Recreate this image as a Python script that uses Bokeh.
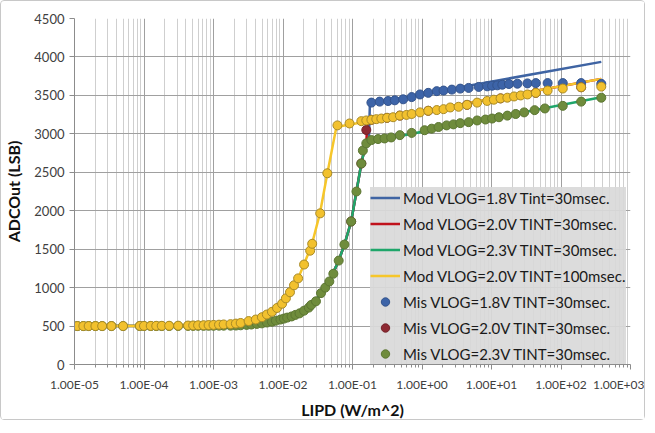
from bokeh.plotting import figure
from bokeh.models import Range1d, FixedTicker, CustomJSTickFormatter
from bokeh.embed import file_html
from bokeh.resources import INLINE

# ---------------- data ----------------
x_ticks = [1e-5, 1e-4, 1e-3, 1e-2, 1e-1, 1e0, 1e1, 1e2, 1e3]
y_ticks = [0, 500, 1000, 1500, 2000, 2500, 3000, 3500, 4000, 4500]

# Model curves
mod18_x = [1e-5, 1e-3, 3.2e-3, 5.9e-3, 0.0103, 0.016, 0.02, 0.0252, 0.0298, 0.0352, 0.0464, 0.0633,
           0.0765, 0.0957, 0.114, 0.134, 0.149, 0.165, 0.172, 0.178, 380]
mod18_y = [500, 505, 512, 540, 595, 650, 700, 770, 830, 928, 1080, 1351,
           1560, 1860, 2250, 2614, 2800, 2890, 2905, 3395, 3936]

mod20_x = [1e-5, 1e-3, 3.2e-3, 5.9e-3, 0.0103, 0.016, 0.02, 0.0252, 0.0298, 0.0352, 0.0464, 0.0633,
           0.0765, 0.0957, 0.114, 0.134, 0.149, 0.158, 0.163, 380]
mod20_y = [500, 505, 512, 540, 595, 650, 700, 770, 830, 928, 1080, 1351,
           1560, 1860, 2250, 2614, 2800, 2860, 3160, 3715]

mod23_x = [1e-5, 1e-3, 3.2e-3, 5.9e-3, 0.0103, 0.016, 0.02, 0.0252, 0.0298, 0.0352, 0.0464, 0.0633,
           0.0765, 0.0957, 0.114, 0.134, 0.149, 0.165, 380]
mod23_y = [500, 505, 512, 540, 595, 650, 700, 770, 830, 928, 1080, 1351,
           1560, 1860, 2250, 2614, 2800, 2890, 3475]

mod20_100_x = [1e-5, 1e-4, 5e-4, 1e-3, 2e-3, 3e-3, 5e-3, 7e-3, 1e-2, 1.3e-2, 1.65e-2, 2e-2,
               2.6e-2, 3.4e-2, 4.35e-2, 5.86e-2, 380]
mod20_100_y = [500, 502, 508, 515, 530, 555, 615, 690, 800, 960, 1120, 1300,
               1560, 1966, 2487, 3090, 3715]

# Measured points
mis18_x = [0.187, 0.246, 0.325, 0.406, 0.536, 0.71, 0.936, 1.23, 1.63, 2.04, 2.69, 3.55, 4.69,
           6.55, 8.67, 10.2, 12.1, 14.3, 17.8, 23.6, 32.9, 43.4, 64.2, 106, 195, 380]
mis18_y = [3406, 3419, 3427, 3436, 3449, 3478, 3512, 3533, 3555, 3563, 3575, 3588, 3597,
           3610, 3618, 3626, 3631, 3639, 3648, 3652, 3656, 3660, 3660, 3660, 3660, 3650]

mis20_x = [0.0957, 0.134, 0.158, 0.187, 0.314, 0.48, 1.23, 4.45, 13.5, 43.4, 195]
mis20_y = [1860, 2614, 3050, 3182, 3208, 3237, 3300, 3377, 3461, 3533, 3606]

mis23_x = [1.1e-5, 1.34e-5, 1.6e-5, 2.0e-5, 2.5e-5, 3.4e-5, 5.0e-5, 8.7e-5, 1.0e-4, 1.25e-4, 1.5e-4,
           1.8e-4, 2.3e-4, 3.1e-4, 4.3e-4, 5.1e-4, 6.0e-4, 7.2e-4, 8.5e-4, 1.0e-3, 1.2e-3, 1.4e-3,
           1.76e-3, 2.1e-3, 2.46e-3, 3.0e-3, 3.5e-3, 4.2e-3, 4.97e-3, 5.86e-3, 6.93e-3, 7.9e-3,
           9.2e-3, 1.03e-2, 1.15e-2, 1.33e-2, 1.51e-2, 1.73e-2, 2.01e-2, 2.35e-2, 2.55e-2, 2.98e-2,
           3.52e-2, 4.06e-2, 4.64e-2, 5.3e-2, 6.33e-2, 7.65e-2, 9.57e-2, 0.114, 0.134, 0.141, 0.158,
           0.187, 0.233, 0.289, 0.36, 0.48, 0.71, 1.09, 1.38, 1.73, 2.26, 2.83, 3.55, 4.69, 6.21,
           8.19, 10.2, 12.8, 16.9, 22.3, 29.5, 41.7, 58.6, 106, 195, 380]
mis23_y = [500, 500, 500, 500, 500, 500, 500, 500, 500, 500, 500,
           500, 500, 501, 502, 502, 503, 503, 504, 504, 505, 505,
           505, 507, 510, 515, 520, 528, 535, 546, 556, 570,
           585, 597, 610, 625, 645, 665, 700, 740, 775, 822,
           928, 1000, 1080, 1180, 1351, 1560, 1860, 2250, 2614, 2783, 2876,
           2919, 2932, 2940, 2953, 2983, 3012, 3047, 3067, 3089, 3110, 3123, 3139, 3152, 3174,
           3186, 3199, 3216, 3237, 3258, 3279, 3308, 3330, 3364, 3419, 3470]

mis20_100_x = [1.1e-5, 1.34e-5, 1.6e-5, 2.0e-5, 2.5e-5, 3.4e-5, 5.0e-5, 8.7e-5, 1.0e-4, 1.25e-4,
               1.5e-4, 1.8e-4, 2.3e-4, 3.1e-4, 4.3e-4, 5.1e-4, 6.0e-4, 7.2e-4, 8.5e-4, 1.0e-3,
               1.2e-3, 1.4e-3, 1.76e-3, 2.1e-3, 2.46e-3, 3.2e-3, 4.06e-3, 4.97e-3, 5.86e-3, 6.93e-3,
               8.2e-3, 9.7e-3, 1.1e-2, 1.26e-2, 1.44e-2, 1.65e-2, 2.01e-2, 2.46e-2, 2.63e-2, 3.43e-2,
               4.34e-2, 6.07e-2, 9.06e-2, 0.134, 0.158, 0.187, 0.22, 0.26, 0.314, 0.384, 0.48,
               0.598, 0.71, 0.936, 1.23, 1.63, 2.04, 2.55, 3.36, 4.45, 6.21, 8.67, 10.8, 13.5,
               16.9, 21.1, 26.3, 32.9, 43.4, 64.2, 106, 195, 380]
mis20_100_y = [500, 500, 500, 500, 500, 500, 500, 502, 502, 502,
               503, 503, 504, 505, 507, 508, 510, 511, 513, 515,
               518, 521, 525, 532, 540, 565, 585, 615, 650, 685,
               735, 790, 860, 940, 1030, 1120, 1300, 1480, 1570, 1966,
               2487, 3110, 3135, 3165, 3174, 3182, 3191, 3199, 3208, 3216, 3237,
               3246, 3258, 3279, 3300, 3309, 3321, 3343, 3352, 3377, 3406, 3428, 3444, 3461,
               3470, 3486, 3499, 3512, 3533, 3563, 3589, 3606, 3614]

labels = ["Mod VLOG=1.8V Tint=30msec.", "Mod VLOG=2.0V TINT=30msec.",
          "Mod VLOG=2.3V TINT=30msec.", "Mod VLOG=2.0V TINT=100msec.",
          "Mis VLOG=1.8V TINT=30msec.", "Mis VLOG=2.0V TINT=30msec.",
          "Mis VLOG=2.3V TINT=30msec."]

# ---------------- figure ----------------
FONT = "Lato"

p = figure(width=645, height=420, x_axis_type="log",
           x_range=Range1d(1e-5, 1e3), y_range=Range1d(0, 4500),
           output_backend="svg", toolbar_location=None,
           min_border_left=69, min_border_right=16, min_border_top=17, min_border_bottom=49)
p.styles = {"border": "1px solid #c8c8c8", "border-radius": "4px"}
p.background_fill_color = "white"
p.border_fill_color = "white"
p.outline_line_color = None

minor = [k * 10.0 ** e for e in range(-5, 3) for k in range(2, 10)]
p.xaxis.ticker = FixedTicker(ticks=x_ticks, minor_ticks=minor)
p.yaxis.ticker = FixedTicker(ticks=y_ticks)
p.xaxis.formatter = CustomJSTickFormatter(code="""
const e = Math.round(Math.log10(tick));
const s = e < 0 ? '-' : '+';
const a = Math.abs(e);
return '1.00E' + s + (a < 10 ? '0' : '') + a;
""")

for ax in (p.xaxis[0], p.yaxis[0]):
    ax.axis_line_color = "#8c8c8c"
    ax.major_tick_line_color = "#8c8c8c"
    ax.minor_tick_line_color = "#8c8c8c"
    ax.major_label_text_font = FONT
    ax.major_label_text_color = "#404040"
    ax.axis_label_text_font = FONT
    ax.axis_label_text_font_style = "bold"
    ax.axis_label_text_font_size = "16px"
    ax.axis_label_text_color = "#111111"

p.xaxis.major_tick_out = 5
p.xaxis.major_tick_in = 0
p.xaxis.minor_tick_out = 3
p.xaxis.minor_tick_in = 0
p.xaxis.major_label_text_font_size = "12px"
p.xaxis.major_label_standoff = 7
p.xaxis.axis_label = "LIPD (W/m^2)"
p.xaxis.axis_label_standoff = 5

p.yaxis.major_tick_out = 5
p.yaxis.major_tick_in = 0
p.yaxis.minor_tick_out = 0
p.yaxis.minor_tick_in = 0
p.yaxis.major_label_text_font_size = "13px"
p.yaxis.axis_label = "ADCOut (LSB)"
p.yaxis.axis_label_standoff = 8

p.xgrid.grid_line_color = "#a0a0a0"
p.xgrid.minor_grid_line_color = "#cfcfcf"
p.ygrid.grid_line_color = "#a0a0a0"

# ---------------- lines ----------------
c_blue_line = "#3f64a3"
c_red_line = "#c0121c"
c_green_line = "#1fa66a"
c_yellow_line = "#f6c62a"

p.line(mod18_x, mod18_y, color=c_blue_line, line_width=2.5, legend_label=labels[0])
p.line(mod20_x, mod20_y, color=c_red_line, line_width=2.5, legend_label=labels[1])
p.line(mod23_x, mod23_y, color=c_green_line, line_width=2.5, legend_label=labels[2])
p.line(mod20_100_x, mod20_100_y, color=c_yellow_line, line_width=2.5, legend_label=labels[3])

# ---------------- points ----------------
p.scatter(mis18_x, mis18_y, size=9, fill_color="#3d64a8", line_color="#34548c", line_width=1,
          legend_label=labels[4])
p.scatter(mis20_x, mis20_y, size=9, fill_color="#8e2a33", line_color="#74222a", line_width=1,
          legend_label=labels[5])
p.scatter(mis23_x, mis23_y, size=9, fill_color="#6f8c3c", line_color="#5c7632", line_width=1,
          legend_label=labels[6])
p.scatter(mis20_100_x, mis20_100_y, size=9, fill_color="#f2c12e", line_color="#a88a26", line_width=1)

# ---------------- legend ----------------
lg = p.legend[0]
lg.location = (296, 0)
lg.background_fill_color = "#d9d9d9"
lg.background_fill_alpha = 0.92
lg.border_line_color = None
lg.label_text_font = FONT
lg.label_text_font_size = "15px"
lg.label_text_color = "#1a1a1a"
lg.glyph_width = 30
lg.glyph_height = 21
lg.label_height = 21
lg.label_standoff = 3
lg.spacing = 5
lg.padding = 3
lg.margin = 0

open("out.html", "w").write(file_html(p, INLINE))
